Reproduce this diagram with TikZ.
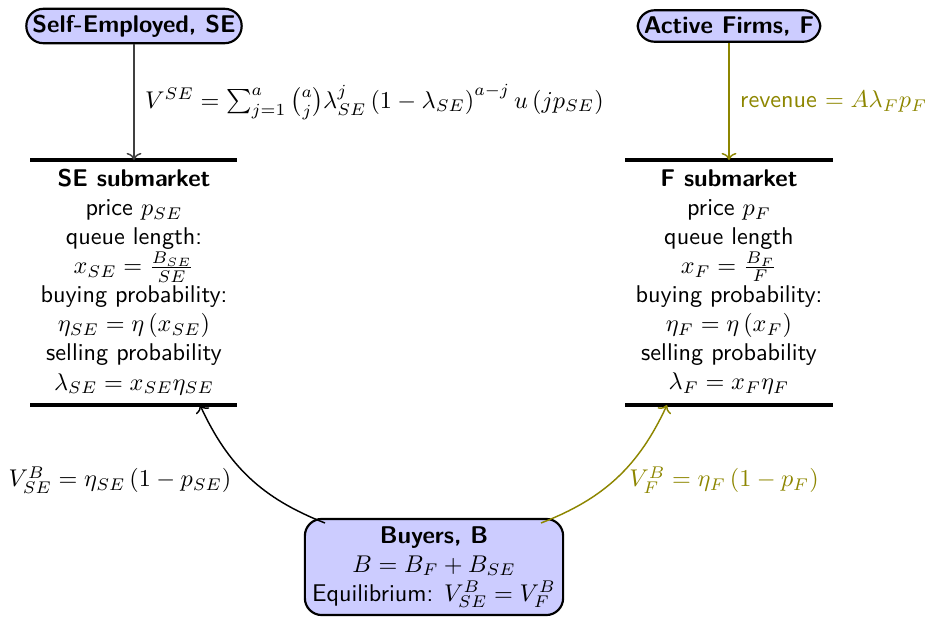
\documentclass[tikz,border=0pt]{standalone}
\usepackage{amsmath}
\usetikzlibrary{arrows.meta}
\begin{document}
\begin{tikzpicture}[x=0.413pt,y=-0.413pt,
  agent/.style={draw=black,line width=0.9pt,rounded corners=7pt,fill=blue!20,font=\sffamily,align=center,inner sep=2.5pt},
  market/.style={font=\sffamily,align=center},
  bar/.style={line width=1.5pt,black},
  flow/.style={->,semithick},
  every node/.style={font=\sffamily}]
\useasboundingbox (0,0) rectangle (929,620);
\node[agent] (se) at (134,26) {\textbf{Self-Employed, SE}};
\node[agent] (f) at (729,26) {\textbf{Active Firms, F}};
\node[agent,inner sep=3pt] (b) at (434,567) {\textbf{Buyers, B}\\ $B=B_F+B_{SE}$\\ Equilibrium: $V^B_{SE}=V^B_F$};
% SE submarket
\coordinate (setl) at (30,160); \coordinate (setr) at (237,160);
\coordinate (sebl) at (30,405); \coordinate (sebr) at (237,405);
\coordinate (setop) at (134,160); \coordinate (sein) at (200,405);
\draw[bar] (setl) -- (setr);
\draw[bar] (sebl) -- (sebr);
\node[market] (sem) at (134,282) {\textbf{SE submarket}\\ price $p_{SE}$\\ queue length:\\ $x_{SE}=\frac{B_{SE}}{SE}$\\ buying probability:\\ $\eta_{SE}=\eta\left(x_{SE}\right)$\\ selling probability\\ $\lambda_{SE}=x_{SE}\eta_{SE}$};
% F submarket
\coordinate (ftl) at (625,160); \coordinate (ftr) at (833,160);
\coordinate (fbl) at (625,405); \coordinate (fbr) at (833,405);
\coordinate (ftop) at (729,160); \coordinate (fin) at (667,405);
\draw[bar] (ftl) -- (ftr);
\draw[bar] (fbl) -- (fbr);
\node[market] (fm) at (729,282) {\textbf{F submarket}\\ price $p_F$\\ queue length\\ $x_F=\frac{B_F}{F}$\\ buying probability:\\ $\eta_F=\eta\left(x_F\right)$\\ selling probability\\ $\lambda_F=x_F\eta_F$};
% arrows
\draw[flow,black!75] (se.south) -- node[right,black,xshift=1pt] {$V^{SE}=\sum_{j=1}^{a}\binom{a}{j}\lambda_{SE}^{j}\left(1-\lambda_{SE}\right)^{a-j}u\left(jp_{SE}\right)$} (setop);
\draw[flow,olive] (f.south) -- node[right,olive,xshift=1pt] {revenue $=A\lambda_F p_F$} (ftop);
\coordinate (bl) at (325,523); \coordinate (br) at (541,523);
\draw[flow,black] (bl) to[bend left=22] (sein);
\draw[flow,olive] (br) to[bend right=22] (fin);
\node[black] (lse) at (120,480) {$V^B_{SE}=\eta_{SE}\left(1-p_{SE}\right)$};
\node[olive] (lf) at (724,480) {$V^B_{F}=\eta_{F}\left(1-p_{F}\right)$};
\end{tikzpicture}
\end{document}
